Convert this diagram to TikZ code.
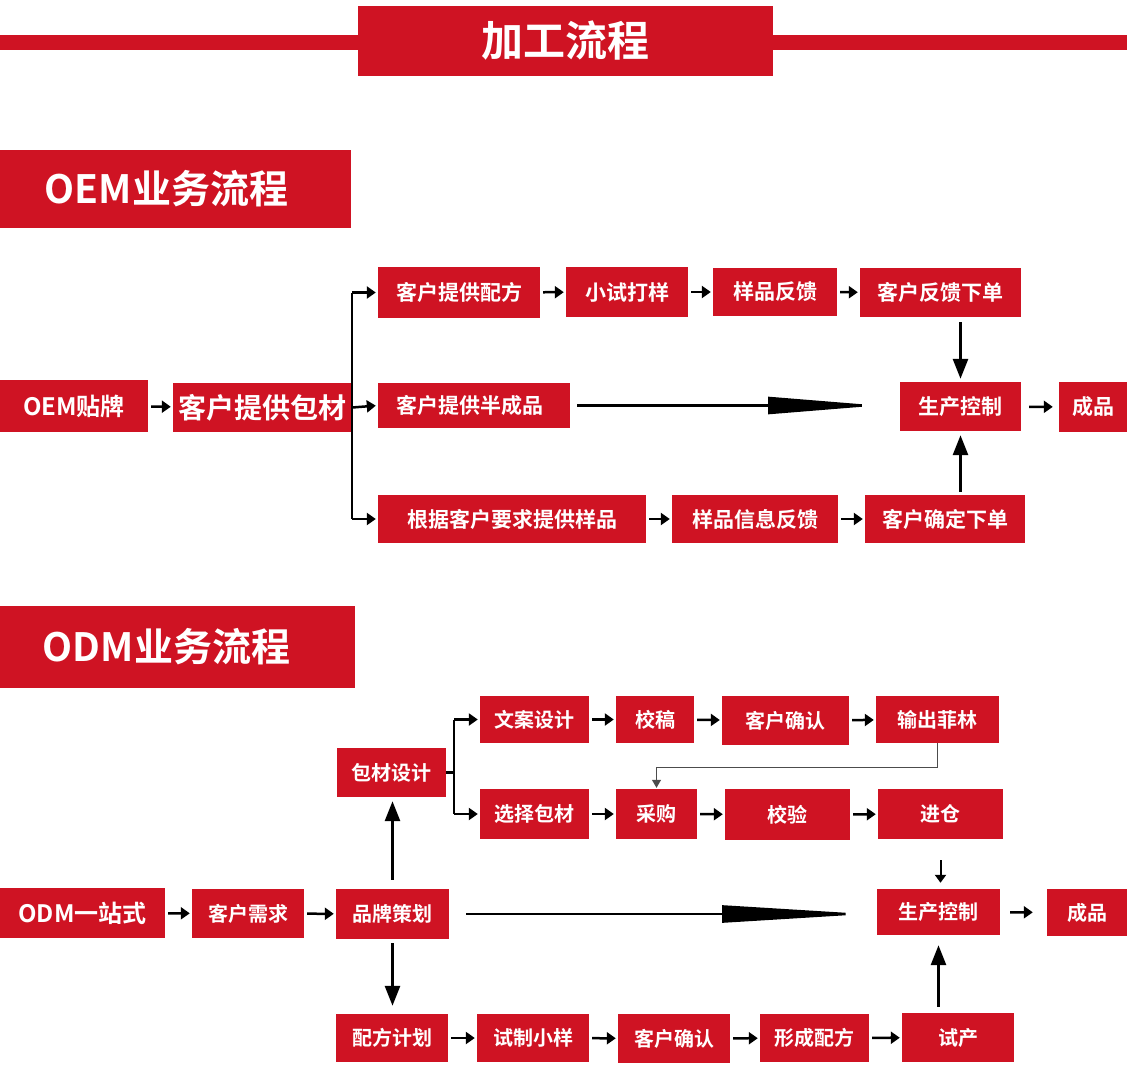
\documentclass[tikz,border=0pt]{standalone}
\usepackage{fontspec}
\setmainfont{Noto Sans CJK SC}[BoldFont={Noto Sans CJK SC Bold}]
\usetikzlibrary{arrows.meta}
\definecolor{brandred}{RGB}{207,19,35}
\tikzset{
  box/.style={fill=brandred, text=white, inner sep=0pt, font=\bfseries\fontsize{21pt}{21pt}\selectfont},
  obox/.style={box},
  dbox/.style={box, font=\bfseries\fontsize{20pt}{20pt}\selectfont},
  headbox/.style={box, font=\bfseries\fontsize{39pt}{39pt}\selectfont},
  arr/.style={draw, line width=2.5pt, -{Triangle[length=9pt,width=12pt]}, shorten >=2pt, shorten <=3pt},
  bigarr/.style={draw, line width=2.8pt, -{Triangle[length=20pt,width=15pt]}},
  branch/.style={draw, line width=2.2pt},
  thin/.style={draw, line width=1.1pt, black!70, -{Triangle[length=8pt,width=9pt]}},
  wedge/.style={draw, line width=2.5pt},
}
\begin{document}
\begin{tikzpicture}[x=1pt,y=-1pt]
\useasboundingbox (0,0) rectangle (1127,1079);
% title bar
\fill[brandred] (0,35) rectangle (358,50);
\fill[brandred] (773,35) rectangle (1127,50);
\node[box, font=\bfseries\fontsize{42pt}{42pt}\selectfont, minimum width=415pt, minimum height=70pt] (title) at (565.5,41) {加工流程};
% OEM
\node[headbox, minimum width=351pt, minimum height=78pt] (oemhead) at (175.5,189) {OEM业务流程\kern18pt};
\node[obox, font=\bfseries\fontsize{24pt}{24pt}\selectfont, minimum width=148pt, minimum height=52pt] (oem) at (74,406) {OEM贴牌};
\node[obox, font=\bfseries\fontsize{28pt}{28pt}\selectfont, minimum width=179pt, minimum height=49pt] (pack) at (262.5,407.5) {客户提供包材};
\node[obox, minimum width=162pt, minimum height=51pt] (peifang) at (459,292.5) {客户提供配方};
\node[obox, minimum width=122pt, minimum height=50pt] (xiaoshi) at (627,292) {小试打样};
\node[obox, minimum width=124pt, minimum height=48pt] (ypfk) at (775,292) {样品反馈};
\node[obox, minimum width=161pt, minimum height=49pt] (khfkxd) at (940.5,292.5) {客户反馈下单};
\node[obox, minimum width=192pt, minimum height=45pt] (semi) at (474,405.5) {客户提供半成品\kern8pt};
\node[obox, minimum width=268pt, minimum height=48pt] (genju) at (512,519) {根据客户要求提供样品};
\node[obox, minimum width=166pt, minimum height=48pt] (ypxx) at (755,519) {样品信息反馈};
\node[obox, minimum width=160pt, minimum height=48pt] (khqd) at (945,519) {客户确定下单};
\node[obox, minimum width=121pt, minimum height=49pt] (prod) at (960.5,406.5) {生产控制};
\node[obox, minimum width=68pt, minimum height=50pt] (fin) at (1093,407) {成品};
\coordinate (wedge1) at (878,405.5);

\draw[arr] (oem) -- (pack);
\draw[branch] (pack.east |- peifang.west) -- (pack.east |- genju.west);
\draw[arr, shorten <=0pt] (pack.east |- peifang.west) -- (peifang.west);
\draw[arr, shorten <=0pt] (pack.east) -- (semi.west);
\draw[arr, shorten <=0pt] (pack.east |- genju.west) -- (genju.west);
\draw[arr] (peifang) -- (xiaoshi);
\draw[arr] (xiaoshi) -- (ypfk);
\draw[arr] (ypfk) -- (khfkxd);
\draw[arr] (genju) -- (ypxx);
\draw[arr] (ypxx) -- (khqd);
\draw[arr, shorten <=8pt, shorten >=6pt] (prod) -- (fin);
\draw[bigarr, shorten <=5pt, shorten >=3pt] (prod.north |- khfkxd.south) -- (prod.north);
\draw[bigarr, shorten <=3pt, shorten >=4pt] (prod.south |- khqd.north) -- (prod.south);
\draw[wedge, -{Triangle[length=110pt,width=17pt]}, shorten <=7pt] (semi.east) -- (wedge1);

% ODM
\node[headbox, minimum width=355pt, minimum height=82pt] (odmhead) at (177.5,647) {ODM业务流程\kern22pt};
\node[dbox, font=\bfseries\fontsize{24pt}{24pt}\selectfont, minimum width=165pt, minimum height=50pt] (odm) at (82.5,913) {ODM一站式};
\node[dbox, minimum width=112pt, minimum height=49pt] (xuqiu) at (248,913.5) {客户需求};
\node[dbox, minimum width=113pt, minimum height=50pt] (brand) at (392.5,914) {品牌策划};
\node[dbox, minimum width=109pt, minimum height=49pt] (baocai) at (391.5,772.5) {包材设计};
\node[dbox, minimum width=109pt, minimum height=47pt] (wenan) at (534.5,719.5) {文案设计};
\node[dbox, minimum width=78pt, minimum height=47pt] (jiaogao) at (655,719.5) {校稿};
\node[dbox, minimum width=127pt, minimum height=49pt] (khqr1) at (785.5,720.5) {客户确认};
\node[dbox, minimum width=123pt, minimum height=47pt] (shuchu) at (937.5,719.5) {输出菲林};
\node[dbox, minimum width=109pt, minimum height=50pt] (xuanze) at (534.5,814) {选择包材};
\node[dbox, minimum width=81pt, minimum height=50pt] (caigou) at (656.5,814) {采购};
\node[dbox, minimum width=125pt, minimum height=51pt] (jiaoyan) at (787.5,814.5) {校验};
\node[dbox, minimum width=125pt, minimum height=50pt] (jincang) at (940.5,814) {进仓};
\node[dbox, minimum width=123pt, minimum height=46pt] (prod2) at (938.5,912) {生产控制};
\node[dbox, minimum width=80pt, minimum height=47pt] (fin2) at (1087,912.5) {成品};
\node[dbox, minimum width=112pt, minimum height=48pt] (pfjh) at (392,1038) {配方计划};
\node[dbox, minimum width=112pt, minimum height=48pt] (szxy) at (533,1038) {试制小样};
\node[dbox, minimum width=112pt, minimum height=49pt] (khqr2) at (674,1038.5) {客户确认};
\node[dbox, minimum width=109pt, minimum height=48pt] (xcpf) at (814.5,1038) {形成配方};
\node[dbox, minimum width=112pt, minimum height=49pt] (shichan) at (958,1037.5) {试产};
\coordinate (wedge2) at (867,914);
\coordinate (bsplit) at (454,772.5);

\draw[arr] (odm) -- (xuqiu);
\draw[arr] (xuqiu) -- (brand);
\draw[bigarr, shorten <=9pt, shorten >=4pt] (brand.north) -- (brand.north |- baocai.south);
\draw[bigarr, shorten <=4pt, shorten >=8pt] (brand.south) -- (brand.south |- pfjh.north);
\draw[branch] (baocai.east) -- (bsplit);
\draw[branch] (bsplit |- wenan.west) -- (bsplit |- xuanze.west);
\draw[arr, shorten <=0pt] (bsplit |- wenan.west) -- (wenan.west);
\draw[arr, shorten <=0pt] (bsplit |- xuanze.west) -- (xuanze.west);
\draw[arr] (wenan) -- (jiaogao);
\draw[arr] (jiaogao) -- (khqr1);
\draw[arr] (khqr1) -- (shuchu);
\draw[arr] (xuanze) -- (caigou);
\draw[arr] (caigou) -- (jiaoyan);
\draw[arr] (jiaoyan) -- (jincang);
\draw[thin, shorten >=1pt] (shuchu.south) -- ++(0,24) -| (caigou.north);
\draw[line width=2pt, -{Triangle[length=8pt,width=11pt]}, shorten <=21pt, shorten >=6pt] (jincang.south) -- (jincang.south |- prod2.north);
\draw[bigarr, shorten <=6pt, shorten >=10pt] (prod2.south |- shichan.north) -- (prod2.south);
\draw[arr, shorten <=10pt, shorten >=14pt] (prod2) -- (fin2);
\draw[wedge, -{Triangle[length=145pt,width=17pt]}, shorten <=17pt] (brand.east) -- (wedge2);
\draw[arr] (pfjh) -- (szxy);
\draw[arr] (szxy) -- (khqr2);
\draw[arr] (khqr2) -- (xcpf);
\draw[arr] (xcpf) -- (shichan);
\end{tikzpicture}
\end{document}
